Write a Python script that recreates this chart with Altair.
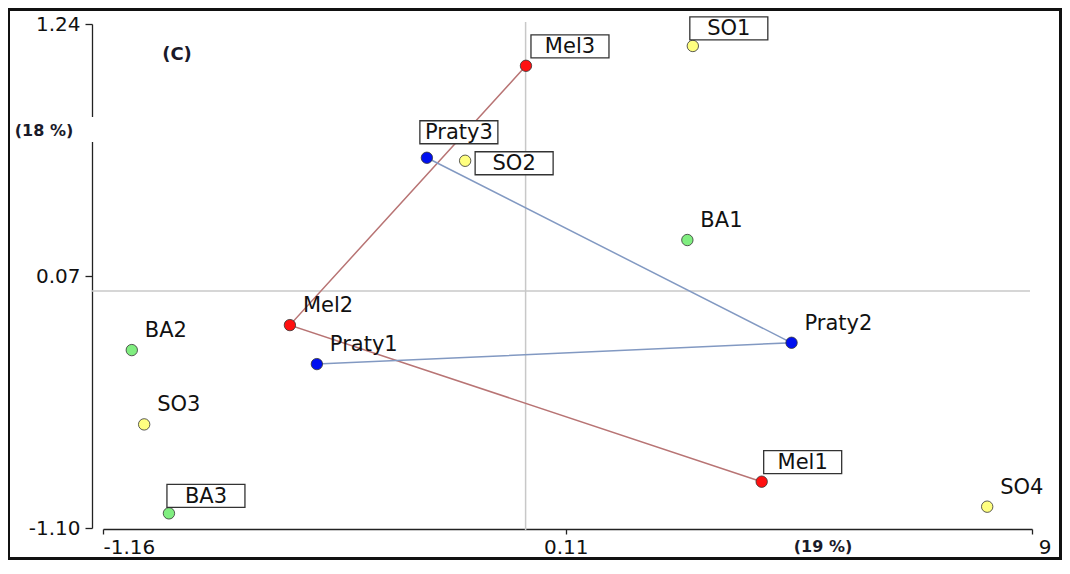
import altair as alt
import pandas as pd

# ---- data ----
names = ["Mel1", "Mel2", "Mel3", "Praty1", "Praty2", "Praty3",
         "SO1", "SO2", "SO3", "SO4", "BA1", "BA2", "BA3"]
xs = [0.648, -0.647, 0.001, -0.573, 0.730, -0.271,
      0.459, -0.166, -1.047, 1.267, 0.444, -1.081, -0.979]
ys = [-0.885, -0.158, 1.046, -0.339, -0.240, 0.619,
      1.138, 0.605, -0.619, -1.001, 0.237, -0.274, -1.032]
groups = ["Mel", "Mel", "Mel", "Praty", "Praty", "Praty",
          "SO", "SO", "SO", "SO", "BA", "BA", "BA"]

mel_path = ["Mel3", "Mel2", "Mel1"]
praty_path = ["Praty3", "Praty2", "Praty1"]

x_ticks = [-1.16, 0.11, 1.39]
x_tick_labels = ["-1.16", "0.11", ""]
y_ticks = [1.24, 0.07, -1.10]
y_tick_labels = ["1.24", "0.07", "-1.10"]
x_domain = [-1.16, 1.39]
y_domain = [-1.10, 1.24]

group_domain = ["Mel", "Praty", "SO", "BA"]
group_colors = ["#ff1010", "#0010f0", "#ffff80", "#80ee80"]

# labels drawn inside a box: (box left offset, box bottom offset) in px
boxed = {"Mel3": (5, -8), "SO1": (-3, -6), "Praty3": (-7, -14),
         "SO2": (10, 14), "Mel1": (2, -8), "BA3": (-2, -6)}
BOX_W, BOX_H = 78, 23

W, H = 929, 504
FONT = "DejaVu Sans"
LABEL_SIZE = 21
TICK_SIZE = 20

df = pd.DataFrame({"name": names, "x": xs, "y": ys, "group": groups})


def label_expr(values, labels):
    expr = "''"
    for v, l in reversed(list(zip(values, labels))):
        expr = f"abs(datum.value - ({v})) < 0.001 ? '{l}' : ({expr})"
    return expr


xscale = alt.Scale(domain=x_domain, nice=False, zero=False)
yscale = alt.Scale(domain=y_domain, nice=False, zero=False)

x_axis = alt.Axis(
    values=x_ticks, labelExpr=label_expr(x_ticks, x_tick_labels),
    title="", grid=False, tickSize=5, labelPadding=3, offset=1,
    domainColor="#222", tickColor="#222", domainWidth=1.3, tickWidth=1.3,
    labelFont=FONT, labelFontSize=TICK_SIZE, labelColor="#111")
y_axis = alt.Axis(
    values=y_ticks, labelExpr=label_expr(y_ticks, y_tick_labels),
    title="", grid=False, tickSize=7, labelPadding=5, offset=11,
    domainColor="#222", tickColor="#222", domainWidth=1.3, tickWidth=1.3,
    labelFont=FONT, labelFontSize=TICK_SIZE, labelColor="#111")


def XE(field="x"):
    return alt.X(f"{field}:Q", scale=xscale, axis=x_axis, title="")


def YE(field="y"):
    return alt.Y(f"{field}:Q", scale=yscale, axis=y_axis, title="")


# frame around the whole figure
frame = alt.Chart(pd.DataFrame({"a": [0]})).mark_rect(
    fill="white", fillOpacity=0, stroke="#111", strokeWidth=3
).encode(x=alt.value(-94.5), x2=alt.value(957.5),
         y=alt.value(-14.5), y2=alt.value(534.5))

zero_df = pd.DataFrame({"v": [0.0]})
hline = alt.Chart(zero_df).mark_rule(color="#c8c8c8", strokeWidth=1.5).encode(
    y=YE("v"), x=alt.value(-11), x2=alt.value(W - 2))
vline = alt.Chart(zero_df).mark_rule(color="#c8c8c8", strokeWidth=1.5).encode(
    x=XE("v"), y=alt.value(-2), y2=alt.value(H + 2))


def path_df(path):
    sub = df.set_index("name").loc[path].reset_index()
    sub["order"] = range(len(path))
    return sub


mel_line = alt.Chart(path_df(mel_path)).mark_line(
    color="#b87474", strokeWidth=1.5).encode(x=XE(), y=YE(), order="order:O")
praty_line = alt.Chart(path_df(praty_path)).mark_line(
    color="#8299c2", strokeWidth=1.5).encode(x=XE(), y=YE(), order="order:O")

points = alt.Chart(df).mark_point(
    filled=True, size=130, stroke="#333", strokeWidth=0.8, opacity=1
).encode(
    x=XE(), y=YE(),
    fill=alt.Fill("group:N", scale=alt.Scale(domain=group_domain, range=group_colors),
                  legend=None),
)

plain_names = [n for n in names if n not in boxed]
plain_labels = alt.Chart(df).transform_filter(
    alt.FieldOneOfPredicate(field="name", oneOf=plain_names)
).mark_text(align="left", baseline="middle", dx=13, dy=-19,
            font=FONT, fontSize=LABEL_SIZE, color="#111").encode(
    x=XE(), y=YE(), text="name:N")

box_layers = []
for n, (dx, dy) in boxed.items():
    sel = alt.Chart(df).transform_filter(alt.datum.name == n)
    box_layers.append(sel.mark_rect(
        fill="white", stroke="#333", strokeWidth=1.3,
        xOffset=dx, x2Offset=dx + BOX_W, yOffset=dy - BOX_H, y2Offset=dy
    ).encode(x=XE(), x2="x", y=YE(), y2="y"))
    box_layers.append(sel.mark_text(
        align="center", baseline="middle", dx=dx + BOX_W / 2, dy=dy - BOX_H / 2 + 1,
        font=FONT, fontSize=LABEL_SIZE, color="#111").encode(
        x=XE(), y=YE(), text="name:N"))

# gap in the y axis for its title, and annotations
gap = alt.Chart(pd.DataFrame({"a": [0]})).mark_rect(fill="white").encode(
    x=alt.value(-15), x2=alt.value(-7), y=alt.value(93), y2=alt.value(118))

ann_c = alt.Chart(pd.DataFrame({"t": ["(C)"]})).mark_text(
    font=FONT, fontSize=18, fontWeight="bold", color="#1a1a2a",
    align="center", baseline="middle").encode(
    text="t:N", x=alt.value(74), y=alt.value(31))
ann_y = alt.Chart(pd.DataFrame({"t": ["(18 %)"]})).mark_text(
    font=FONT, fontSize=16, fontWeight="bold", color="#1a1a2a",
    align="center", baseline="middle").encode(
    text="t:N", x=alt.value(-59), y=alt.value(107))
ann_x = alt.Chart(pd.DataFrame({"t": ["(19 %)"]})).mark_text(
    font=FONT, fontSize=16, fontWeight="bold", color="#1a1a2a",
    align="center", baseline="middle").encode(
    text="t:N", x=alt.value(720), y=alt.value(523))
nine = alt.Chart(pd.DataFrame({"v": [x_ticks[-1]], "t": ["9"]})).mark_text(
    font=FONT, fontSize=TICK_SIZE, color="#111", align="center", baseline="middle", dx=13
).encode(x=XE("v"), y=alt.value(H + 20), text="t:N")

chart = alt.layer(
    frame, hline, vline, mel_line, praty_line, points,
    *box_layers, plain_labels, gap, ann_c, ann_y, ann_x, nine
).properties(
    width=W, height=H,
    autosize=alt.AutoSizeParams(type="none"),
    padding={"left": 95, "top": 16, "right": 30, "bottom": 32},
    background="white",
).configure_view(stroke="transparent")

chart.save("out.html", embed_options={"renderer": "svg", "actions": False})
